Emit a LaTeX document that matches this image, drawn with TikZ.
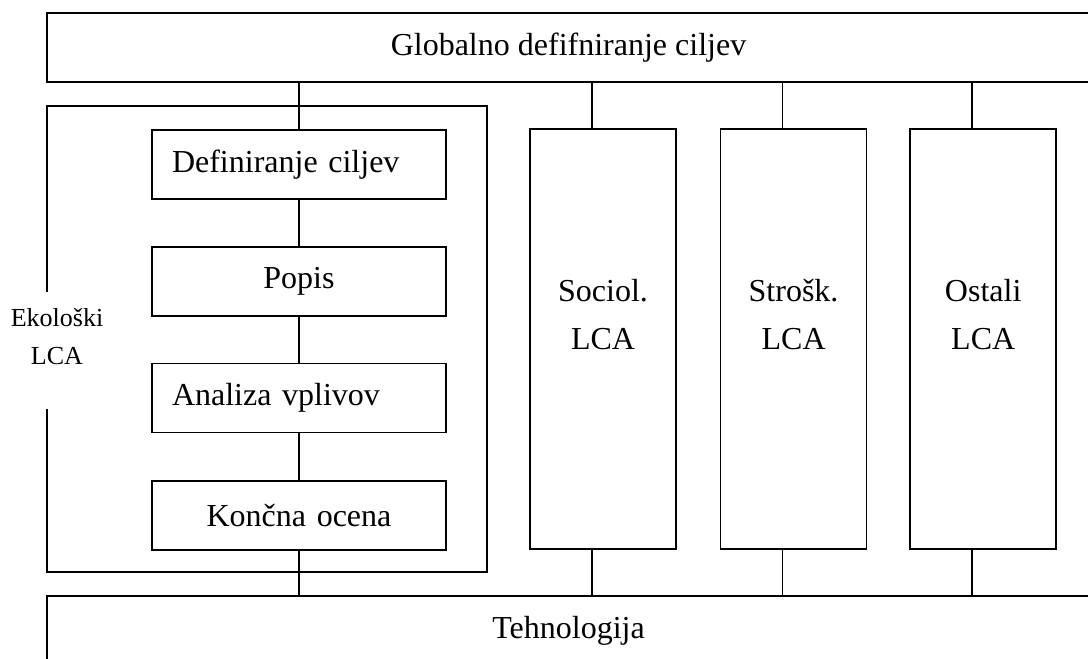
\documentclass[tikz,border=0pt]{standalone}
\usepackage{fontspec}
\setmainfont{Liberation Serif}
\usetikzlibrary{positioning}

\tikzset{
    frame/.style={draw, line width=0.8pt},
    bar/.style={frame, inner sep=0pt, minimum width=521.5pt, minimum height=34.5pt,
        font=\fontsize{16}{19}\selectfont},
    stage/.style={frame, inner xsep=10pt, inner ysep=0pt, text width=127pt,
        minimum height=34.5pt, font=\fontsize{16}{19}\selectfont},
    lcabox/.style={frame, inner sep=0pt, minimum width=73pt, minimum height=210pt},
    lcatext/.style={align=center, inner sep=0pt, font=\fontsize{16}{24}\selectfont},
}

\begin{document}
\begin{tikzpicture}[x=0.5pt, y=-0.5pt]
    \useasboundingbox (0,0) rectangle (1088,659);
    \clip (0,0) rectangle (1088,659);
    % bars top and bottom
    \node [bar] (glob) at (568.5,47.5) {Globalno defifniranje ciljev};
    \node [bar] (tech) at (568.5,630.5) {Tehnologija};
    % ecological LCA
    \draw [frame] (47,292) -- (47,106) -- (487,106) -- (487,572) -- (47,572) -- (47,409);
    \node [align=center, inner sep=0pt, font=\fontsize{13}{19}\selectfont] (eko) at (57,337) {Ekološki\\LCA};
    \node [stage, align=left] (def) at (299,164.5) {Definiranje ciljev};
    \node [stage, align=center, below=23.2pt of def] (popis) {Popis};
    \node [stage, align=left, below=23pt of popis] (anal) {Analiza vplivov};
    \node [stage, align=center, below=23.4pt of anal] (konc) {Končna ocena};
    \draw [frame] (def.north) -- (def.north |- glob.south);
    \draw [frame] (def) -- (popis);
    \draw [frame] (popis) -- (anal);
    \draw [frame] (anal) -- (konc);
    \draw [frame] (konc.south) -- (konc.south |- tech.north);
    % other LCA columns
    \node [lcabox] (soc) at (603,339) {};
    \node [lcabox, right=21.5pt of soc] (stro) {};
    \node [lcabox, right=21pt of stro] (ost) {};
    \node [lcatext] (soct) at ([yshift=12pt]soc.center) {Sociol.\\LCA};
    \node [lcatext] (strot) at ([yshift=12pt]stro.center) {Strošk.\\LCA};
    \node [lcatext] (ostt) at ([yshift=12pt]ost.center) {Ostali\\LCA};
    \foreach \col in {soc,stro,ost} {
        \coordinate (\col up) at ([xshift=-5.5pt]\col.north);
        \coordinate (\col down) at ([xshift=-5.5pt]\col.south);
        \draw [frame] (\col up) -- (\col up |- glob.south);
        \draw [frame] (\col down) -- (\col down |- tech.north);
    }
\end{tikzpicture}
\end{document}
